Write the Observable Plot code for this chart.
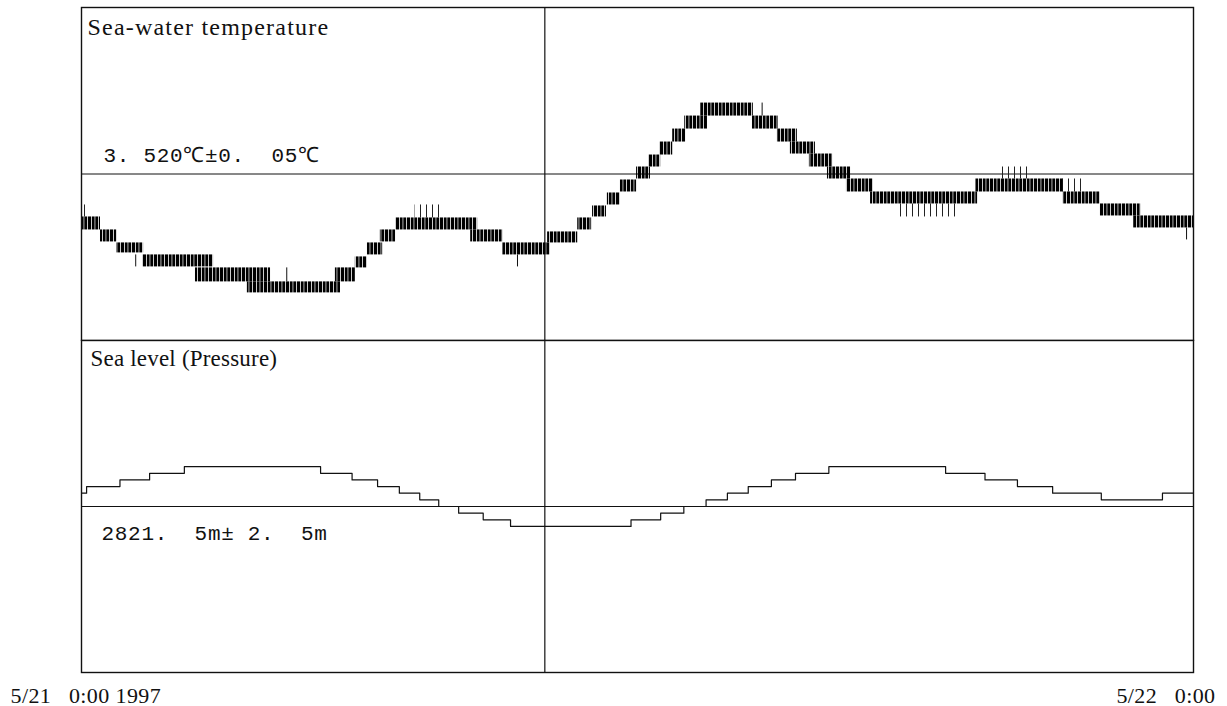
<!DOCTYPE html>
<html><head><meta charset="utf-8">
<script src="https://cdn.jsdelivr.net/npm/d3@7"></script>
<script src="https://cdn.jsdelivr.net/npm/@observablehq/plot@0.6"></script>
<style>
body{margin:0;background:#fff;}
#chart{position:relative;width:1227px;height:706px;}
#chart > svg{position:absolute;left:0;}
#chart text{white-space:pre;}
</style></head><body>
<svg width="0" height="0" style="position:absolute">
  <defs>
    <pattern id="hatch" patternUnits="userSpaceOnUse" width="11" height="10">
      <rect x="0" y="0" width="3.2" height="10" fill="#000"/>
      <rect x="4.0" y="0" width="2.6" height="10" fill="#000"/>
      <rect x="7.3" y="0" width="2.9" height="10" fill="#000"/>
    </pattern>
    <pattern id="sparse" patternUnits="userSpaceOnUse" width="6" height="10">
      <rect x="0" y="0" width="1" height="10" fill="#222"/>
    </pattern>
  </defs>
</svg>
<div id="chart"></div>
<script>
// ---- time axis (hours since 5/21 0:00, 1997) ----
const hourDomain = [0, 24];
const markerHour = 10;
const dateLabels = ["5/21   0:00 1997", "5/22   0:00"];

// ---- Sea-water temperature (°C) ----
const tempTitle = "Sea-water temperature";
const tempRef = 3.520;
const tempRange = [3.470, 3.570];
const tempRefLabel = "3. 520℃±0.  05℃";
// quantised record: [start h, end h, low °C, high °C]
const tempBlocks = [
  [0.00, 0.41, 3.5032, 3.5071],
  [0.41, 0.76, 3.4996, 3.5032],
  [0.76, 1.34, 3.4963, 3.4993],
  [1.32, 2.85, 3.4921, 3.4957],
  [2.46, 4.08, 3.4876, 3.4918],
  [3.58, 5.59, 3.4843, 3.4876],
  [5.48, 5.91, 3.4876, 3.4918],
  [5.91, 6.17, 3.4918, 3.4951],
  [6.17, 6.50, 3.4957, 3.4993],
  [6.45, 6.78, 3.4996, 3.5032],
  [6.78, 8.55, 3.5032, 3.5068],
  [8.40, 9.09, 3.4996, 3.5032],
  [9.09, 10.12, 3.4957, 3.4993],
  [10.06, 10.71, 3.4993, 3.5026],
  [10.71, 11.01, 3.5032, 3.5068],
  [11.03, 11.33, 3.5071, 3.5104],
  [11.35, 11.63, 3.5107, 3.5143],
  [11.63, 11.98, 3.5146, 3.5182],
  [11.98, 12.28, 3.5185, 3.5221],
  [12.24, 12.50, 3.5221, 3.5257],
  [12.48, 12.76, 3.5257, 3.5296],
  [12.76, 13.04, 3.5296, 3.5335],
  [13.02, 13.51, 3.5335, 3.5374],
  [13.36, 14.50, 3.5374, 3.5413],
  [14.48, 15.04, 3.5335, 3.5374],
  [15.02, 15.45, 3.5296, 3.5335],
  [15.30, 15.84, 3.5260, 3.5296],
  [15.71, 16.21, 3.5221, 3.5260],
  [16.10, 16.60, 3.5185, 3.5221],
  [16.51, 17.09, 3.5146, 3.5185],
  [17.03, 19.34, 3.5110, 3.5146],
  [19.30, 21.19, 3.5146, 3.5185],
  [21.19, 21.99, 3.5110, 3.5146],
  [21.99, 22.86, 3.5074, 3.5110],
  [22.71, 24.00, 3.5038, 3.5074]
];
// occasional excursions to the neighbouring level: [start h, end h, low °C, high °C]
const tempSparse = [
  [0.00, 0.12, 3.5071, 3.5107],
  [7.20, 7.80, 3.5068, 3.5107],
  [17.60, 18.90, 3.5071, 3.5110],
  [19.80, 20.50, 3.5185, 3.5221],
  [21.10, 21.60, 3.5146, 3.5185]
];
// single spikes: [hour, low °C, high °C]
const tempSpikes = [
  [1.17, 3.4921, 3.4957],
  [4.43, 3.4876, 3.4918],
  [9.41, 3.4921, 3.4957],
  [14.69, 3.5374, 3.5413],
  [23.85, 3.5002, 3.5038]
];

// ---- Sea level (pressure), m ----
const levelTitle = "Sea level (Pressure)";
const levelRef = 2821.5;
const levelRange = [2819.0, 2824.0];
const levelRefLabel = "2821.  5m± 2.  5m";
const levelHours = [0.00, 0.11, 0.83, 1.47, 2.22, 5.16, 5.84, 6.39, 6.86, 7.30, 7.71, 8.14, 8.67, 9.26,
  11.86, 12.50, 13.00, 13.48, 13.94, 14.39, 14.89, 15.41, 16.13, 18.65, 19.50, 20.20, 20.96, 22.01, 23.33, 24.00];
const levelValues = [2821.7, 2821.8, 2821.9, 2822.0, 2822.1, 2822.0, 2821.9, 2821.8, 2821.7, 2821.6, 2821.5, 2821.4, 2821.3, 2821.2,
  2821.3, 2821.4, 2821.5, 2821.6, 2821.7, 2821.8, 2821.9, 2822.0, 2822.1, 2822.0, 2821.9, 2821.8, 2821.7, 2821.6, 2821.7, 2821.7];

// ---- build tables ----
const blockRows = tempBlocks.map(([s, e, lo, hi]) => ({s, e, lo, hi}));
const sparseRows = tempSparse.map(([s, e, lo, hi]) => ({s, e, lo, hi}));
const spikeRows = tempSpikes.map(([t, lo, hi]) => ({t, lo, hi}));
const levelRows = levelHours.map((t, i) => ({t, v: levelValues[i]}));

const W = 1227;
const serif = "'Liberation Serif', 'DejaVu Serif', serif";
const monoFont = "'Liberation Mono', 'DejaVu Sans Mono', monospace";
const ink = "#111";

const topPlot = Plot.plot({
  width: W, height: 341,
  marginLeft: 81, marginRight: 34, marginTop: 7, marginBottom: 1,
  x: {domain: hourDomain, axis: null},
  y: {domain: tempRange, axis: null},
  style: {background: "transparent", fontFamily: serif, color: ink},
  marks: [
    Plot.ruleY([tempRef], {stroke: ink, strokeWidth: 1}),
    Plot.ruleX([markerHour], {stroke: ink, strokeWidth: 1.2}),
    Plot.rect(sparseRows, {x1: "s", x2: "e", y1: "lo", y2: "hi", fill: "url(#sparse)"}),
    Plot.rect(blockRows, {x1: "s", x2: "e", y1: "lo", y2: "hi", fill: "url(#hatch)"}),
    Plot.ruleX(spikeRows, {x: "t", y1: "lo", y2: "hi", stroke: ink, strokeWidth: 1}),
    Plot.frame({stroke: ink, strokeWidth: 1.4}),
    Plot.text([tempTitle], {frameAnchor: "top-left", dx: 6, dy: 27, lineAnchor: "bottom", textAnchor: "start",
      fontSize: 24, fontFamily: serif, fill: ink}),
    Plot.text([{y: tempRef, label: tempRefLabel}], {y: "y", text: "label", frameAnchor: "left", dx: 22, dy: -12,
      lineAnchor: "bottom", textAnchor: "start", fontSize: 21, fontFamily: monoFont, fill: ink})
  ]
});
topPlot.style.top = "0px";

const bottomPlot = Plot.plot({
  width: W, height: 366,
  marginLeft: 81, marginRight: 34, marginTop: 0, marginBottom: 34,
  x: {domain: hourDomain, axis: null},
  y: {domain: levelRange, axis: null},
  style: {background: "transparent", fontFamily: serif, color: ink, overflow: "visible"},
  marks: [
    Plot.ruleY([levelRef], {stroke: ink, strokeWidth: 1}),
    Plot.ruleX([markerHour], {stroke: ink, strokeWidth: 1.2}),
    Plot.line(levelRows, {x: "t", y: "v", curve: "step-after", stroke: ink, strokeWidth: 1.2}),
    Plot.frame({stroke: ink, strokeWidth: 1.4}),
    Plot.text([levelTitle], {frameAnchor: "top-left", dx: 9, dy: 25, lineAnchor: "bottom", textAnchor: "start",
      fontSize: 23, fontFamily: serif, fill: ink}),
    Plot.text([{y: levelRef, label: levelRefLabel}], {y: "y", text: "label", frameAnchor: "left", dx: 20, dy: 33,
      lineAnchor: "bottom", textAnchor: "start", fontSize: 21, fontFamily: monoFont, fill: ink}),
    Plot.axisX([hourDomain[0]], {label: null, tickSize: 0, tickPadding: 15, tickFormat: () => dateLabels[0],
      textAnchor: "start", dx: -71, fontSize: 22, fontFamily: serif, fill: ink}),
    Plot.axisX([hourDomain[1]], {label: null, tickSize: 0, tickPadding: 15, tickFormat: () => dateLabels[1],
      textAnchor: "end", dx: 22, fontSize: 22, fontFamily: serif, fill: ink})
  ]
});
bottomPlot.style.top = "340px";

// letter spacing for the typewriter-like lettering
const spacing = new Map([
  [tempTitle, 1.2], [levelTitle, 0.2],
  [tempRefLabel, 0.7], [levelRefLabel, 0.7],
  [dateLabels[0], 0.4], [dateLabels[1], 0.4]
]);
for (const svg of [topPlot, bottomPlot]) {
  d3.select(svg).selectAll("text").each(function() {
    const ls = spacing.get(this.textContent);
    if (ls !== undefined) this.setAttribute("letter-spacing", ls);
  });
}

const chart = document.getElementById("chart");
chart.appendChild(topPlot);
chart.appendChild(bottomPlot);
</script>
</body></html>
